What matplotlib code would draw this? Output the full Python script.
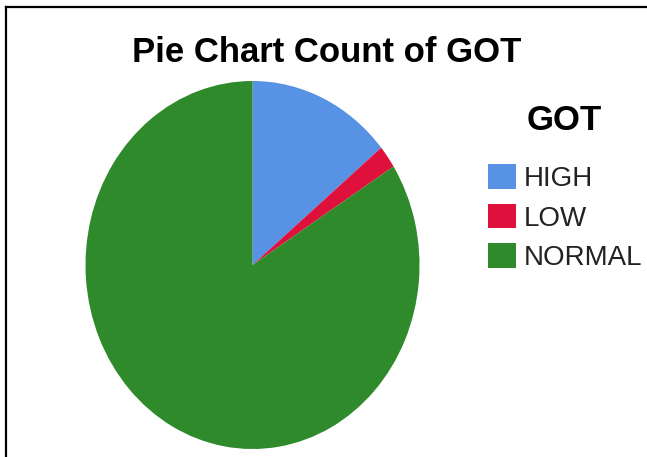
import matplotlib
matplotlib.use("Agg")
import matplotlib.pyplot as plt
from matplotlib.lines import Line2D
from matplotlib.patches import Patch

# share of each GOT category (percent of count)
categories = ["HIGH", "LOW", "NORMAL"]
counts = [14, 2, 84]
colors = ["#5792e4", "#e0103c", "#2e8a2b"]

W, H = 647, 457
fig = plt.figure(figsize=(W / 100, H / 100), dpi=100)
fig.patch.set_facecolor("white")


def px_axes(cx, cy, rx, ry):
    # axes box from pixel centre/radii (y measured from the top)
    return [(cx - rx) / W, (H - cy - ry) / H, 2 * rx / W, 2 * ry / H]


ax = fig.add_axes(px_axes(252.5, 265, 167, 184))
wedges, _ = ax.pie(counts, colors=colors, startangle=90, counterclock=False,
                   radius=1.0, wedgeprops=dict(linewidth=0))
ax.set_aspect("auto")
ax.set_xlim(-1, 1)
ax.set_ylim(-1, 1)
ax.axis("off")

fig.text(327 / W, 1 - 52 / H, "Pie Chart Count of GOT", ha="center", va="center",
         fontsize=25, fontweight="bold", family="Liberation Sans")

# legend heading drawn on its own so the gap to the entries can be set
fig.text(564 / W, 1 - 121 / H, "GOT", ha="center", va="center",
         fontsize=25, fontweight="bold", family="Liberation Sans")

handles = [Patch(facecolor=c, edgecolor="none", label=l) for c, l in zip(colors, categories)]
leg = fig.legend(handles=handles, loc="upper left", bbox_to_anchor=(488 / W, 1 - 164 / H),
                 frameon=False,
                 prop={"family": "Liberation Sans", "size": 20},
                 handlelength=1.0, handleheight=1.0, handletextpad=0.28,
                 labelspacing=0.42, borderpad=0, borderaxespad=0)
for t in leg.get_texts():
    t.set_color("#222222")

# frame edges along the top and left
fig.add_artist(Line2D([6 / W, 6 / W], [0, 1 - 7 / H], color="black", lw=1.6,
                      transform=fig.transFigure))
fig.add_artist(Line2D([6 / W, 1], [1 - 7 / H, 1 - 7 / H], color="black", lw=1.6,
                      transform=fig.transFigure))

fig.savefig("out.png", dpi=100)
